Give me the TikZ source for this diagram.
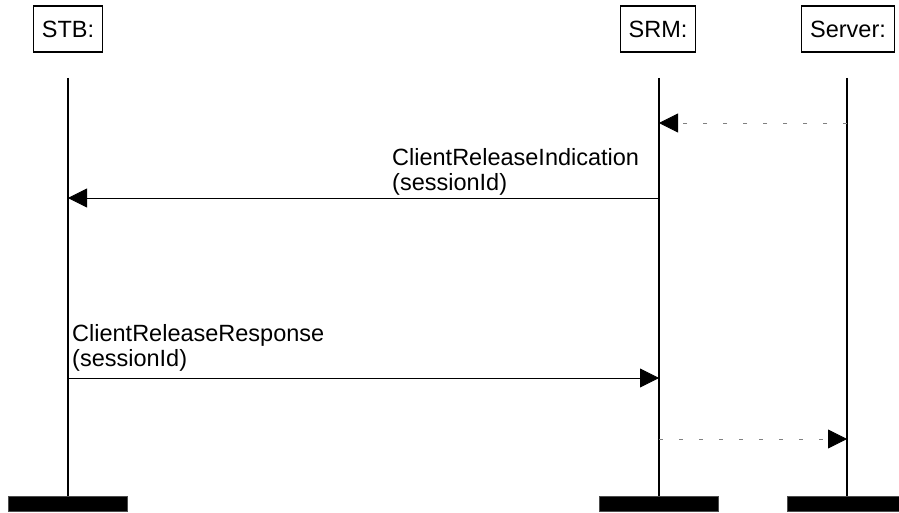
\documentclass[tikz,border=0pt]{standalone}
\usepackage{fontspec}
\setmainfont{Liberation Sans}
\usetikzlibrary{arrows.meta, positioning}
\tikzset{
  x=1pt, y=-1pt,
  actor/.style={draw, line width=1.2pt, inner xsep=8.5pt, minimum height=46pt,
    font=\fontsize{23.5}{26}\selectfont},
  lifeline/.style={line width=2pt},
  endbar/.style={fill=black, draw=black!70, line width=1pt, minimum width=119pt,
    minimum height=15pt, inner sep=0pt, anchor=north},
  msg/.style={line width=0.8pt, -{Triangle[length=19pt,width=19pt,color=black]}},
  reply/.style={msg, draw=gray, dash pattern=on 4pt off 16pt},
  msglabel/.style={align=left, inner sep=0pt, anchor=south west,
    font=\fontsize{23.5}{25.5}\selectfont},
}

\begin{document}
\begin{tikzpicture}
  \useasboundingbox (0,0) rectangle (899,513);

  % actors
  \node[actor] (stb) at (68,29) {STB:};
  \node[actor] (srm) at (658,29) {SRM:};
  \node[actor] (srv) at (848,29) {Server:};

  % lifelines
  \foreach \n/\x in {stb/68, srm/659, srv/847} {
    \coordinate (\n top) at (\x,78);
    \node[endbar] (\n end) at (\x,496) {};
    \draw[lifeline] (\n top) -- (\n end.north);
  }

  % messages
  \coordinate (m1srv) at (847,123);  \coordinate (m1srm) at (659,123);
  \coordinate (m2srm) at (659,198);  \coordinate (m2stb) at (68,198);
  \coordinate (m3stb) at (68,378);   \coordinate (m3srm) at (659,378);
  \coordinate (m4srm) at (659,439);  \coordinate (m4srv) at (847,439);

  \draw[reply] (m1srv) -- (m1srm);
  \draw[msg] (m2srm) -- (m2stb);
  \node[msglabel] (ind) at (392,196) {ClientReleaseIndication\\(sessionId)};
  \draw[msg] (m3stb) -- (m3srm);
  \node[msglabel] (resp) at (72,372) {ClientReleaseResponse\\(sessionId)};
  \draw[reply] (m4srm) -- (m4srv);
\end{tikzpicture}
\end{document}
